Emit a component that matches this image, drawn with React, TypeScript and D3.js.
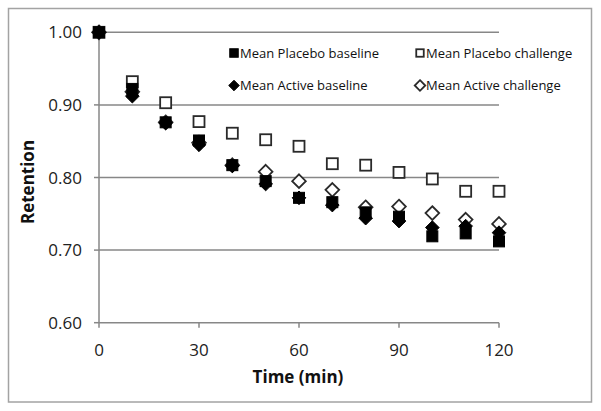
import React from "react";
import * as d3 from "d3";

const times = [0, 10, 20, 30, 40, 50, 60, 70, 80, 90, 100, 110, 120];
const placeboBaseline = [1.0, 0.922, 0.876, 0.851, 0.817, 0.795, 0.772, 0.766, 0.752, 0.746, 0.719, 0.723, 0.712];
const placeboChallenge = [1.0, 0.932, 0.903, 0.877, 0.861, 0.852, 0.843, 0.819, 0.817, 0.807, 0.798, 0.781, 0.781];
const activeBaseline = [1.0, 0.912, 0.875, 0.845, 0.816, 0.791, 0.772, 0.762, 0.744, 0.74, 0.731, 0.733, 0.724];
const activeChallenge = [1.0, 0.918, 0.876, 0.848, 0.817, 0.808, 0.795, 0.783, 0.759, 0.76, 0.751, 0.742, 0.736];
const xTicks = [0, 30, 60, 90, 120];
const yTicks = [0.6, 0.7, 0.8, 0.9, 1.0];
const legendLabels = ["Mean Placebo baseline", "Mean Placebo challenge", "Mean Active baseline", "Mean Active challenge"];

const W = 601, H = 411;
const FONT = "'Open Sans', sans-serif";

type Kind = "sq" | "osq" | "dia" | "odia";

function Marker({ x, y, kind, s }: { x: number; y: number; kind: Kind; s: number }) {
  if (kind === "sq" || kind === "osq") {
    const filled = kind === "sq";
    return (
      <rect x={x - s / 2} y={y - s / 2} width={s} height={s}
        fill={filled ? "#000" : "#fff"} stroke={filled ? "#000" : "#2a2a2a"}
        strokeWidth={filled ? 1 : 1.8} />
    );
  }
  const filled = kind === "dia";
  const h = s * 0.62;
  const d = `M${x},${y - h}L${x + h},${y}L${x},${y + h}L${x - h},${y}Z`;
  return <path d={d} fill={filled ? "#000" : "#fff"} stroke={filled ? "#000" : "#2a2a2a"} strokeWidth={filled ? 1 : 1.8} />;
}

export default function App() {
  const x = d3.scaleLinear().domain([0, 120]).range([99, 499]);
  const y = d3.scaleLinear().domain([0.6, 1.0]).range([322.7, 32.3]);
  const axisColor = "#878787";

  const series: { vals: number[]; kind: Kind }[] = [
    { vals: placeboChallenge, kind: "osq" },
    { vals: activeChallenge, kind: "odia" },
    { vals: placeboBaseline, kind: "sq" },
    { vals: activeBaseline, kind: "dia" },
  ];

  const legend: { label: string; kind: Kind; lx: number; ly: number }[] = [
    { label: legendLabels[0], kind: "sq", lx: 234, ly: 53 },
    { label: legendLabels[1], kind: "osq", lx: 420, ly: 53 },
    { label: legendLabels[2], kind: "dia", lx: 234, ly: 85.5 },
    { label: legendLabels[3], kind: "odia", lx: 420, ly: 85.5 },
  ];

  return (
    <svg width={W} height={H} style={{ position: "absolute", left: 0, top: 0, background: "#fff" }}>
      <rect x={8.5} y={8.5} width={583} height={393.5} fill="#fff" stroke="#a3a3a3" strokeWidth={1.5} />
      {yTicks.filter((t) => t > 0.6).map((t) => (
        <line key={"g" + t} x1={x(0)} x2={x(120)} y1={y(t)} y2={y(t)} stroke={axisColor} strokeWidth={1.5} />
      ))}
      <line x1={x(0)} x2={x(0)} y1={y(1.0)} y2={y(0.6)} stroke={axisColor} strokeWidth={1.5} />
      <line x1={x(0)} x2={x(120)} y1={y(0.6)} y2={y(0.6)} stroke={axisColor} strokeWidth={1.5} />
      {yTicks.map((t) => (
        <g key={"yt" + t}>
          <line x1={x(0) - 5} x2={x(0)} y1={y(t)} y2={y(t)} stroke={axisColor} strokeWidth={1.5} />
          <text x={82} y={y(t) + 6} textAnchor="end" fontFamily={FONT} fontSize={17} fill="#222">
            {d3.format(".2f")(t)}
          </text>
        </g>
      ))}
      {xTicks.map((t) => (
        <g key={"xt" + t}>
          <line x1={x(t)} x2={x(t)} y1={y(0.6)} y2={y(0.6) + 5} stroke={axisColor} strokeWidth={1.5} />
          <text x={x(t)} y={356} textAnchor="middle" fontFamily={FONT} fontSize={17} fill="#222">
            {t}
          </text>
        </g>
      ))}
      <text x={298} y={383} textAnchor="middle" fontFamily={FONT} fontSize={17} fontWeight="bold" fill="#111">
        Time (min)
      </text>
      <text transform="translate(34,182) rotate(-90)" textAnchor="middle" fontFamily={FONT} fontSize={17} fontWeight="bold" fill="#111">
        Retention
      </text>
      {series.map((s, si) =>
        s.vals.map((v, i) => (
          <Marker key={si + "-" + i} x={x(times[i])} y={y(v)} kind={s.kind} s={11} />
        ))
      )}
      {legend.map((l) => (
        <g key={l.label}>
          <Marker x={l.lx} y={l.ly} kind={l.kind} s={l.kind === "osq" ? 7.5 : 8.5} />
          <text x={l.lx + 6} y={l.ly + 4.5} fontFamily={FONT} fontSize={13} fill="#111">
            {l.label}
          </text>
        </g>
      ))}
    </svg>
  );
}
